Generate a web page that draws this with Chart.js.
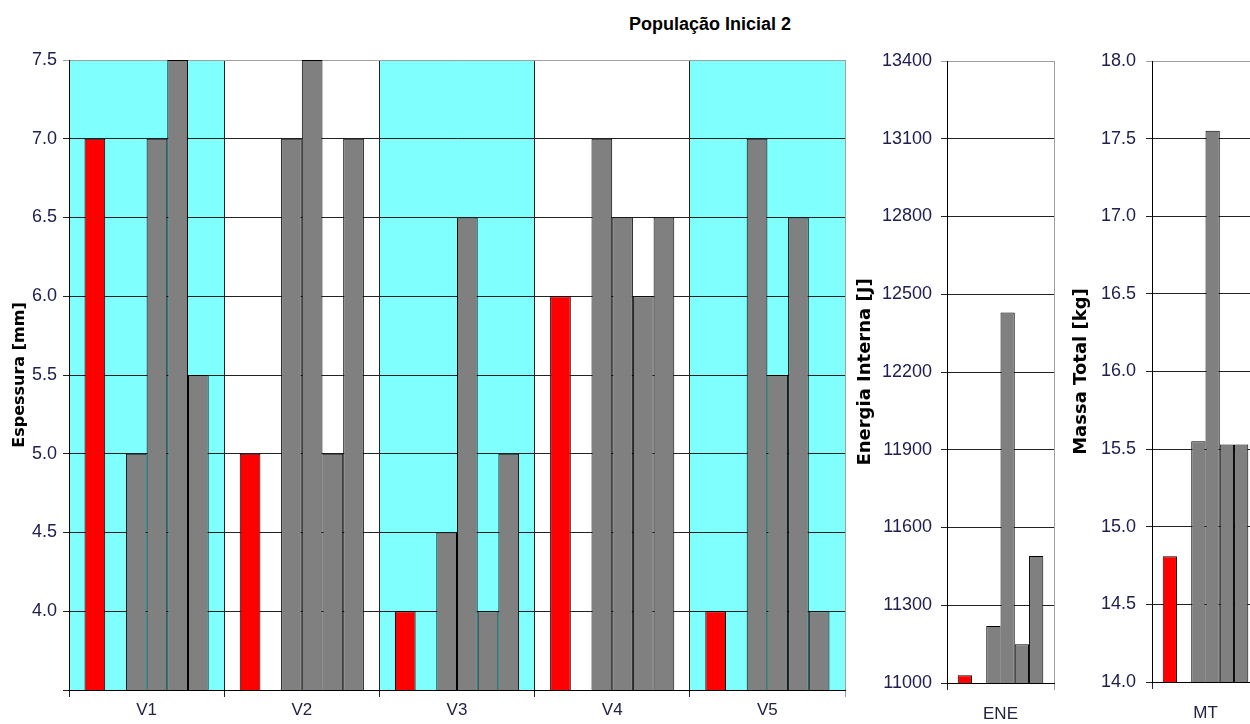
<!DOCTYPE html>
<html>
<head>
<meta charset="utf-8">
<script src="https://cdn.jsdelivr.net/npm/chart.js@4/dist/chart.umd.min.js"></script>
<style>
  html, body { margin: 0; padding: 0; background: #fff; overflow: hidden; width: 1250px; height: 724px; }
  .box { position: absolute; top: 0; height: 724px; }
  #title { position: absolute; top: 15px; left: 710px; transform: translateX(-50%);
           font: bold 18px "Liberation Sans", Arial, sans-serif; line-height: 18px; color: #000; white-space: nowrap; }
</style>
</head>
<body>
<div id="title">População Inicial 2</div>
<div class="box" style="left:0;width:860px"><canvas id="chart_esp" width="860" height="724"></canvas></div>
<div class="box" style="left:855px;width:210px"><canvas id="chart_ene" width="210" height="724"></canvas></div>
<div class="box" style="left:1065px;width:210px"><canvas id="chart_mt" width="210" height="724"></canvas></div>
<script>
// espessura por variavel (V1..V5), um array por individuo
const groups = ['V1', 'V2', 'V3', 'V4', 'V5'];
const esp1 = [7.0, 5.0, 4.0, 6.0, 4.0];
const esp2 = [null, null, null, null, null];
const esp3 = [5.0, 7.0, 4.5, 7.0, 7.0];
const esp4 = [7.0, 7.5, 6.5, 6.5, 5.5];
const esp5 = [7.5, 5.0, 4.0, 6.0, 6.5];
const esp6 = [5.5, 7.0, 5.0, 6.5, 4.0];

// energia interna [J]
const eneLabels = ['ENE'];
const ene = [11030, null, 11220, 12430, 11150, 11490];

// massa total [kg]
const mtLabels = ['MT'];
const mt = [14.81, null, 15.55, 17.55, 15.53, 15.53];

const bandOn = [true, false, true, false, true];
const fillColors = ['#ff0000', '#808080', '#808080', '#808080', '#808080', '#808080'];

const tickFont = { family: '"Liberation Sans", Arial, sans-serif', size: 18 };
const tickColor = '#202050';
const gridDark = '#222222';
const gridEdge = '#a0a0a0';

const bandPlugin = {
    id: 'bands',
    beforeDraw(chart) {
        if (chart.canvas.id !== 'chart_esp') return;
        const { ctx, chartArea, scales: { x } } = chart;
        const w = (chartArea.right - chartArea.left) / groups.length;
        ctx.save();
        ctx.fillStyle = '#80ffff';
        groups.forEach((g, i) => {
            if (!bandOn[i]) return;
            const cx = x.getPixelForValue(i);
            ctx.fillRect(cx - w / 2, chartArea.top, w, chartArea.bottom - chartArea.top);
        });
        ctx.restore();
    }
};

function makeChart(id, labels, datasets, y, sizes) {
    return new Chart(document.getElementById(id), {
        type: 'bar',
        data: { labels: labels, datasets: datasets },
        options: {
            responsive: false,
            animation: false,
            layout: { padding: { top: sizes.top, right: sizes.right, left: 0, bottom: 0 } },
            plugins: { legend: { display: false }, tooltip: { enabled: false } },
            datasets: { bar: { categoryPercentage: 0.8, barPercentage: 1.0 } },
            scales: {
                x: {
                    grid: {
                        offset: true,
                        color: (c) => (c.index === undefined ? gridEdge : gridDark),
                        tickLength: 7
                    },
                    border: { color: '#000', width: 1 },
                    ticks: { font: { family: tickFont.family, size: 17 }, color: '#222244', padding: sizes.xPad },
                    afterFit: (s) => { s.height = sizes.xh; }
                },
                y: {
                    min: y.min,
                    max: y.max,
                    grid: {
                        color: (c) => (c.tick && c.tick.value === y.max ? gridEdge : gridDark),
                        tickLength: 6
                    },
                    border: { color: '#000', width: 1 },
                    ticks: {
                        stepSize: y.step,
                        autoSkip: false,
                        font: tickFont,
                        color: tickColor,
                        padding: sizes.yPad,
                        callback: y.fmt
                    },
                    title: {
                        display: true,
                        text: y.title,
                        color: '#000',
                        font: { family: '"DejaVu Sans", sans-serif', weight: 'bold', size: y.titleSize },
                        padding: { top: sizes.titlePad, bottom: 0 }
                    },
                    afterFit: (s) => { s.width = sizes.yw; }
                }
            }
        },
        plugins: [bandPlugin]
    });
}

function bars(values) {
    return values.map((v, i) => ({
        label: 'Ind ' + (i + 1),
        data: v,
        backgroundColor: fillColors[i],
        borderColor: '#000',
        borderWidth: 1
    }));
}

makeChart('chart_esp', groups,
    bars([esp1, esp2, esp3, esp4, esp5, esp6]),
    { min: 3.5, max: 7.5, step: 0.5, title: 'Espessura [mm]', titleSize: 16,
      fmt: (v) => (v === 3.5 ? '' : v.toFixed(1)) },
    { top: 60, right: 15, xh: 34, yw: 69, yPad: 6, xPad: 3, titlePad: 10 });

makeChart('chart_ene', eneLabels,
    bars(ene.map((v) => [v])),
    { min: 11000, max: 13400, step: 300, title: 'Energia Interna [J]', titleSize: 18,
      fmt: (v) => String(v) },
    { top: 61, right: 11, xh: 41, yw: 92, yPad: 9, xPad: 14, titlePad: 0 });

makeChart('chart_mt', mtLabels,
    bars(mt.map((v) => [v])),
    { min: 14, max: 18, step: 0.5, title: 'Massa Total [kg]', titleSize: 18,
      fmt: (v) => v.toFixed(1) },
    { top: 61, right: 16, xh: 42, yw: 87, yPad: 10, xPad: 14, titlePad: 6 });
</script>
</body>
</html>
